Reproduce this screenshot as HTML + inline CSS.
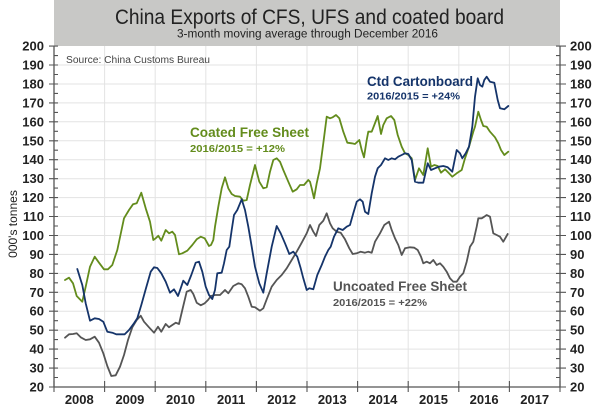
<!DOCTYPE html>
<html><head><meta charset="utf-8"><style>
html,body{margin:0;padding:0;background:#fff;}
svg{display:block;font-family:"Liberation Sans",Arial,sans-serif;}
</style></head><body>
<svg width="602" height="410" viewBox="0 0 602 410" xmlns="http://www.w3.org/2000/svg">
<rect x="0" y="0" width="602" height="410" fill="#fff"/>
<rect x="54" y="0" width="506" height="46" fill="#c8c8c6"/>
<text x="115" y="24" font-size="21" fill="#222" textLength="389" lengthAdjust="spacingAndGlyphs">China Exports of CFS, UFS and coated board</text>
<text x="177" y="37.5" font-size="11.5" fill="#222" textLength="261" lengthAdjust="spacingAndGlyphs">3-month moving average through December 2016</text>
<g stroke="#e3e3e3" stroke-width="1">
<line x1="54" x2="560" y1="65" y2="65"/><line x1="54" x2="560" y1="84" y2="84"/><line x1="54" x2="560" y1="102.9" y2="102.9"/><line x1="54" x2="560" y1="121.8" y2="121.8"/><line x1="54" x2="560" y1="140.8" y2="140.8"/><line x1="54" x2="560" y1="159.7" y2="159.7"/><line x1="54" x2="560" y1="178.7" y2="178.7"/><line x1="54" x2="560" y1="197.6" y2="197.6"/><line x1="54" x2="560" y1="216.5" y2="216.5"/><line x1="54" x2="560" y1="235.5" y2="235.5"/><line x1="54" x2="560" y1="254.4" y2="254.4"/><line x1="54" x2="560" y1="273.4" y2="273.4"/><line x1="54" x2="560" y1="292.3" y2="292.3"/><line x1="54" x2="560" y1="311.2" y2="311.2"/><line x1="54" x2="560" y1="330.2" y2="330.2"/><line x1="54" x2="560" y1="349.1" y2="349.1"/><line x1="54" x2="560" y1="368.1" y2="368.1"/>
<line y1="46" y2="387" x1="104.6" x2="104.6"/><line y1="46" y2="387" x1="155.2" x2="155.2"/><line y1="46" y2="387" x1="205.8" x2="205.8"/><line y1="46" y2="387" x1="256.4" x2="256.4"/><line y1="46" y2="387" x1="307" x2="307"/><line y1="46" y2="387" x1="357.6" x2="357.6"/><line y1="46" y2="387" x1="408.2" x2="408.2"/><line y1="46" y2="387" x1="458.8" x2="458.8"/><line y1="46" y2="387" x1="509.4" x2="509.4"/>
</g>
<text x="66" y="63" font-size="10" fill="#444" textLength="144" lengthAdjust="spacingAndGlyphs">Source: China Customs Bureau</text>
<g stroke="#555" stroke-width="1.3" fill="none">
<line x1="54" y1="46" x2="54" y2="387"/><line x1="560" y1="46" x2="560" y2="387"/><line x1="54" y1="387" x2="560" y2="387"/>
</g>
<g stroke="#555" stroke-width="1.1">
<path d="M49 46.1H58M49 65H58M49 84H58M49 102.9H58M49 121.8H58M49 140.8H58M49 159.7H58M49 178.7H58M49 197.6H58M49 216.5H58M49 235.5H58M49 254.4H58M49 273.4H58M49 292.3H58M49 311.2H58M49 330.2H58M49 349.1H58M49 368.1H58M49 387H58"/>
<path d="M54 55.6H58M54 74.5H58M54 93.4H58M54 112.4H58M54 131.3H58M54 150.2H58M54 169.2H58M54 188.1H58M54 207H58M54 226H58M54 244.9H58M54 263.9H58M54 282.8H58M54 301.7H58M54 320.7H58M54 339.6H58M54 358.6H58M54 377.5H58"/>
<path d="M556 46.1H566M556 65H566M556 84H566M556 102.9H566M556 121.8H566M556 140.8H566M556 159.7H566M556 178.7H566M556 197.6H566M556 216.5H566M556 235.5H566M556 254.4H566M556 273.4H566M556 292.3H566M556 311.2H566M556 330.2H566M556 349.1H566M556 368.1H566M556 387H566"/>
<path d="M556 55.6H560M556 74.5H560M556 93.4H560M556 112.4H560M556 131.3H560M556 150.2H560M556 169.2H560M556 188.1H560M556 207H560M556 226H560M556 244.9H560M556 263.9H560M556 282.8H560M556 301.7H560M556 320.7H560M556 339.6H560M556 358.6H560M556 377.5H560"/>
<path d="M54 381V392M104.6 381V392M155.2 381V392M205.8 381V392M256.4 381V392M307 381V392M357.6 381V392M408.2 381V392M458.8 381V392M509.4 381V392M560 381V392"/>
</g>
<g font-size="13" font-weight="bold" fill="#222" text-anchor="end">
<text x="44" y="50.6">200</text><text x="44" y="69.5">190</text><text x="44" y="88.5">180</text><text x="44" y="107.4">170</text><text x="44" y="126.3">160</text><text x="44" y="145.3">150</text><text x="44" y="164.2">140</text><text x="44" y="183.2">130</text><text x="44" y="202.1">120</text><text x="44" y="221">110</text><text x="44" y="240">100</text><text x="44" y="258.9">90</text><text x="44" y="277.9">80</text><text x="44" y="296.8">70</text><text x="44" y="315.7">60</text><text x="44" y="334.7">50</text><text x="44" y="353.6">40</text><text x="44" y="372.6">30</text><text x="44" y="391.5">20</text>
</g>
<g font-size="13" font-weight="bold" fill="#222">
<text x="570" y="50.6">200</text><text x="570" y="69.5">190</text><text x="570" y="88.5">180</text><text x="570" y="107.4">170</text><text x="570" y="126.3">160</text><text x="570" y="145.3">150</text><text x="570" y="164.2">140</text><text x="570" y="183.2">130</text><text x="570" y="202.1">120</text><text x="570" y="221">110</text><text x="570" y="240">100</text><text x="570" y="258.9">90</text><text x="570" y="277.9">80</text><text x="570" y="296.8">70</text><text x="570" y="315.7">60</text><text x="570" y="334.7">50</text><text x="570" y="353.6">40</text><text x="570" y="372.6">30</text><text x="570" y="391.5">20</text>
</g>
<g font-size="13" font-weight="bold" fill="#222" text-anchor="middle">
<text x="79.3" y="404">2008</text><text x="129.9" y="404">2009</text><text x="180.5" y="404">2010</text><text x="231.1" y="404">2011</text><text x="281.7" y="404">2012</text><text x="332.3" y="404">2013</text><text x="382.9" y="404">2014</text><text x="433.5" y="404">2015</text><text x="484.1" y="404">2016</text><text x="534.7" y="404">2017</text>
</g>
<text transform="translate(17,224) rotate(-90)" font-size="12" fill="#222" text-anchor="middle">000's tonnes</text>
<g fill="none" stroke-width="1.8" stroke-linejoin="round" stroke-linecap="round">
<polyline stroke="#555555" points="65,337.7 69,334.3 73,334 76.7,333.3 80.7,337.3 85.7,340 90,339.3 94.7,336.7 99,342.7 103.3,353.3 107.3,366 111.3,376 115.7,375.3 120,366.7 124,355 128,340 132.3,327.3 136.7,320 140.7,315.7 144,321.7 149,327.3 154,332.7 158,326.7 161.3,331.7 165.7,324 169,327.3 172.3,325 175.7,322.7 179,324 182.3,310 186.7,291.7 190.7,290 193.3,294 196.7,302.7 200.7,305.3 204.7,303.3 208,300 211,296 215,295 220,295 225,290 228.3,293.3 233.3,286 238.3,283.3 241.7,284.3 245,288.3 248.3,296.7 251.7,306.7 255,307.3 260,310.7 263.3,308.3 266.7,299.3 271.7,286.7 276.7,280 281.7,275 286.7,268.3 291.7,260 296.7,251.7 301.7,242.7 306.7,233.3 310,225 313.3,231.7 316,236 319.3,225 323.3,220.7 326.7,213.3 330,223.3 332.7,228.3 336.7,231.7 340.7,232.7 345,239.3 349.3,248.3 352.7,254 356.7,253.3 360.7,251.7 365,252.7 368.3,251.7 371.7,252.7 375,241.7 380,233.3 384.3,225 389,221.7 391.7,230 395,238.3 398.3,245 401.7,255 405,248.3 410,247.3 414.3,247.7 417.7,250 421,256.7 423.3,263.3 426.7,261.7 430,263.3 433.3,260 436.7,265 440,263.3 443.3,266.7 446.7,271.7 450,278.3 453.3,281.7 456.7,281.7 460,276.7 463.3,273.3 466.7,261.7 470,246.7 473.3,241.7 476.7,226.7 478.3,218.3 481.7,218.3 484.3,216.7 486.7,215 490,216.7 493.3,233.3 496.7,235 500,236.7 503.3,241.7 507.7,234"/>
<polyline stroke="#638c1c" points="65,280 69,277.7 73,283.3 76.7,296 82.3,301.7 85.7,286.7 90,266.7 94.7,256.7 99,262.7 104,269.3 108,269.3 112.3,265 117.3,250 124,218.3 129,210 133,204.3 136.7,203.3 141.3,192.7 145.7,208.3 150,221.7 153.3,240 155.7,238.3 158.3,235.7 161.3,240.7 165.7,230 169,233.3 172.3,231.7 175,235 179,254.3 182.3,253.3 187.3,250.7 192.3,245 196.7,239.3 200.7,236.7 204.7,238.3 209,246 211,245 213.3,240 215,226.7 218.3,206.7 221.7,188.3 225,177.3 228.3,188.3 231.7,194 235,196 240,196.7 243.3,200.7 246.7,200 250,185 255,165 259.3,181.7 263.3,188.3 266.7,187.3 270,171.7 273.3,160 276.7,158.3 280,161.7 283.3,170 288.3,181.7 292.7,191.7 296.7,189.3 300,185 304,185 308.3,180 310,181.7 311.7,188.3 314,198.3 316.7,183.3 320,168.3 323.3,143.3 326.7,116.7 330,118.3 332.7,117.3 336,115 339.3,118.3 343.3,131.7 347.3,142.7 351.7,143.3 355,144 359.3,140 361.7,150 364,157.3 366.7,140 368.3,131.7 371.7,131.7 374.3,125 377.7,116 381,134 383.3,125 386.7,118.3 391,116 394.3,120 397.7,135 401.7,146.7 405,153.3 408.3,155 411.7,158.3 415,180 419,168.3 423.3,175 427.7,148.3 431,166.7 434.3,165 437.7,166 441,172.7 445,169.3 449,173.3 452.3,176.7 456.7,173.3 461.7,170 465,158.3 469,146.7 473.3,131.7 475,126.7 478.3,111.7 481,120 483.3,126 486.7,126.7 490,131.7 495,137.3 498.3,143.3 501,150 504.3,155 508.3,151.7"/>
<polyline stroke="#15346a" points="77.3,269 80.7,280 82.3,285 85.7,303.3 90,320.7 94.7,318.3 99,319 103.3,321.7 107.3,331.7 112.3,332.7 116.3,334.3 120.7,334.3 124.7,334.3 129,330 134,323.3 137.3,318.3 141.3,305 145.7,289.3 150.7,271.7 154,267.3 157.3,268 161.3,273.3 165.7,281.7 170,292.7 174,289.3 178,296 180.7,288.3 183.3,280.7 187.3,285 191.3,275 195.7,262.7 199,261.7 202.3,271.7 205.7,286.7 209,295 212.3,299 215,290 217.3,273.3 221.7,272.7 224,263.3 226.7,250 229.3,246.7 231.7,230 234,215 237.3,210 241.7,199.3 245,210 248.3,226.7 251.7,246.7 255,266.7 259.3,283.3 263.3,292.7 266.7,273.3 271.7,246.7 276.7,226 280.7,233.3 285,243.3 289.3,254 293.3,251.7 297.3,256.7 300.7,268.3 303.3,278.3 306.7,290 309.3,288.3 313.3,289.3 317.3,275 321.7,265 325,256.7 328.3,250 330.7,246.7 334,236.7 338.3,228.3 342.7,230 346.7,226.7 350,225 353.3,213.3 356.7,201.7 360,199.3 362.7,201.7 365,211.7 368.3,214 371.7,193.3 375,176.7 377.7,168.3 381,165 385,158.3 388.3,160 391.7,158.3 395,159.3 398.3,156.7 401.7,155 405,153.3 408.3,154 411.7,160 415,181.7 418.3,182.7 423.3,182.7 427.7,163.3 431,170 435,168.3 439,166.7 443.3,166 447.7,167.3 452.3,171.7 456.7,150 460,153.3 462.3,158.3 465.7,153.3 469,146.7 472.3,126.7 475,96.7 477.7,78.3 480,85 482.3,86.7 484.3,80 486.7,76.7 490,81.7 494.3,82.7 497.7,100 500,108.3 504.3,109.3 508.3,106"/>
</g>
<g font-weight="bold">
<text x="367" y="86" font-size="14" fill="#15346a" textLength="106" lengthAdjust="spacingAndGlyphs">Ctd Cartonboard</text>
<text x="367" y="99.5" font-size="10.5" fill="#15346a" textLength="93" lengthAdjust="spacingAndGlyphs">2016/2015 = +24%</text>
<text x="190" y="137" font-size="14" fill="#638c1c" textLength="119" lengthAdjust="spacingAndGlyphs">Coated Free Sheet</text>
<text x="190" y="152" font-size="10.5" fill="#638c1c" textLength="95" lengthAdjust="spacingAndGlyphs">2016/2015 = +12%</text>
<text x="333" y="291" font-size="14" fill="#555" textLength="134" lengthAdjust="spacingAndGlyphs">Uncoated Free Sheet</text>
<text x="333" y="306" font-size="10.5" fill="#555" textLength="94" lengthAdjust="spacingAndGlyphs">2016/2015 = +22%</text>
</g>
</svg>
</body></html>
